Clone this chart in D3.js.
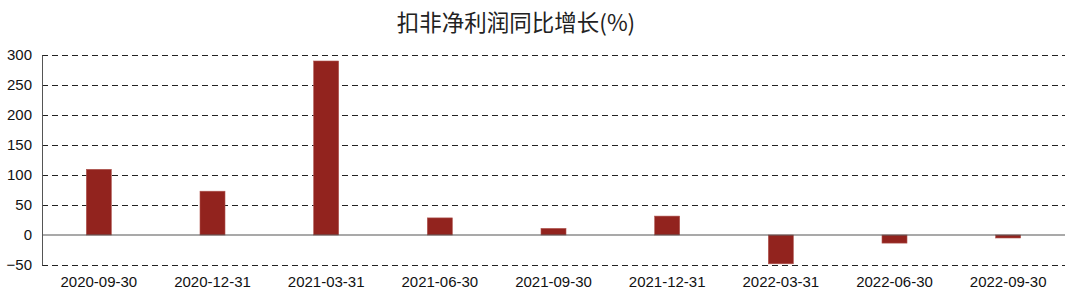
<!DOCTYPE html>
<html><head><meta charset="utf-8">
<script src="https://cdn.jsdelivr.net/npm/d3@7"></script>
<style>body{margin:0;background:#fff}svg{display:block}</style>
</head><body><svg id="c" width="1080" height="304"></svg>
<script>
const title = "扣非净利润同比增长(%)";
const categories = ["2020-09-30","2020-12-31","2021-03-31","2021-06-30","2021-09-30","2021-12-31","2022-03-31","2022-06-30","2022-09-30"];
const values = [109.5, 73, 290, 28.5, 11, 31.5, -48, -13.5, -5];
const yTicks = [-50, 0, 50, 100, 150, 200, 250, 300];

const svg = d3.select("#c");
const mLeft = 42, mRight = 1065, mTop = 55, mBottom = 265;
const x = d3.scaleBand().domain(categories).range([mLeft, mRight]).paddingInner(0.78).paddingOuter(0.39);
const y = d3.scaleLinear().domain([-50, 300]).range([mBottom, mTop]);

svg.append("text").attr("x", 516).attr("y", 31).attr("text-anchor", "middle")
  .attr("font-family", "'Noto Sans CJK SC', sans-serif").attr("font-size", 22.5).attr("fill", "#222").text(title);

// grid
svg.append("g").selectAll("line").data(yTicks.filter(d => d !== 0)).join("line")
  .attr("x1", mLeft).attr("x2", mRight).attr("y1", d => y(d) + 0.5).attr("y2", d => y(d) + 0.5)
  .attr("stroke", "#222").attr("stroke-width", 1.2).attr("stroke-dasharray", "6,4");

// y axis
const yAxis = svg.append("g").attr("transform", `translate(${mLeft},0)`)
  .call(d3.axisLeft(y).tickValues(yTicks).tickSize(0).tickPadding(10));
yAxis.select(".domain").attr("stroke", "#555");
yAxis.selectAll("text").attr("font-family", "'Liberation Sans', Arial, sans-serif").attr("font-size", 15).attr("fill", "#111");

// bars
svg.append("g").selectAll("rect").data(values).join("rect")
  .attr("x", (d, i) => x(categories[i]))
  .attr("width", x.bandwidth())
  .attr("y", d => y(Math.max(0, d)))
  .attr("height", d => Math.abs(y(d) - y(0)))
  .attr("fill", "#92231e").attr("stroke", "#b0554f").attr("stroke-width", 0.6);

// zero line
svg.append("line").attr("x1", mLeft).attr("x2", mRight).attr("y1", y(0)).attr("y2", y(0))
  .attr("stroke", "#555").attr("stroke-width", 1.2);

// x labels
const xAxis = svg.append("g").attr("transform", `translate(0,${mBottom})`)
  .call(d3.axisBottom(x).tickSize(0).tickPadding(11));
xAxis.select(".domain").remove();
xAxis.selectAll("text").attr("font-family", "'Liberation Sans', Arial, sans-serif").attr("font-size", 15).attr("fill", "#111");
</script></body></html>
